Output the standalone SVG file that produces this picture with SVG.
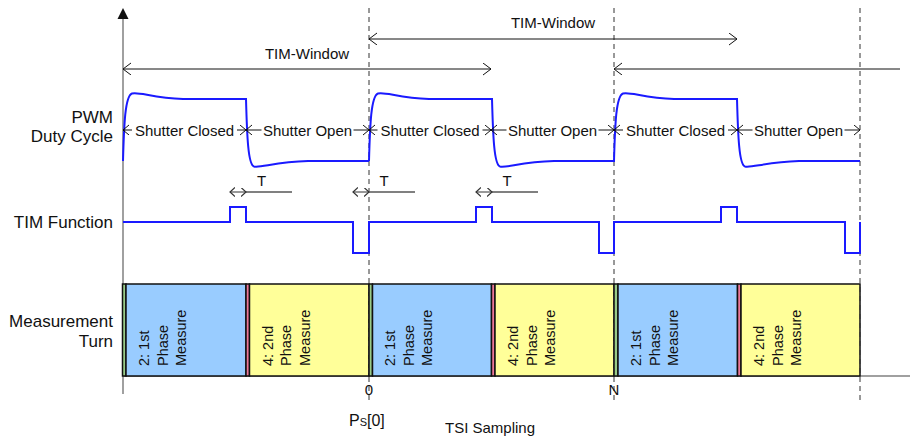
<svg xmlns="http://www.w3.org/2000/svg" width="910" height="436" viewBox="0 0 910 436">
<style>
text{font-family:"Liberation Sans",Arial,sans-serif;fill:#111}
.lbl{font-size:17px;text-anchor:end}
.sm{font-size:15px}
.bx{font-size:14.5px}
.mid{text-anchor:middle}
.wave{fill:none;stroke:#1a1aff;stroke-width:2}
.dash{stroke:#333;stroke-width:1;stroke-dasharray:5,4;fill:none}
.axis{stroke:#808080;stroke-width:1.5;fill:none}
.win{stroke:#111;stroke-width:1;fill:none;marker-start:url(#ah);marker-end:url(#ah)}
.sh{stroke:#111;stroke-width:1;fill:none}
.tm{stroke:#333;stroke-width:1;fill:none;marker-start:url(#aht);marker-end:url(#aht)}
.tl{stroke:#808080;stroke-width:2}
.box{stroke:#111;stroke-width:1.5}
.blue{fill:#99ccff}.yel{fill:#ffff99}.grn{fill:#99cc88}.pnk{fill:#ee7799}
</style>
<defs>
<marker id="ah" markerUnits="userSpaceOnUse" markerWidth="10" markerHeight="14" refX="8" refY="6" orient="auto-start-reverse"><path d="M0,0 L8,6 L0,12" fill="none" stroke="#111" stroke-width="1"/></marker>
<marker id="ahs" markerUnits="userSpaceOnUse" markerWidth="8" markerHeight="12" refX="6" refY="5" orient="auto-start-reverse"><path d="M0,0 L6,5 L0,10" fill="none" stroke="#111" stroke-width="1"/></marker>
<marker id="aht" markerUnits="userSpaceOnUse" markerWidth="8" markerHeight="11" refX="5" refY="4.5" orient="auto-start-reverse"><path d="M0,0 L5,4.5 L0,9" fill="none" stroke="#333" stroke-width="1.2"/></marker>
<path id="pwm" d="M0,161 C1,125 2,96 9,93.5 C16,91.5 30,98 60,99 L123,99 C124,135 125,165 131,166.5 C138,168 152,162 185,161 L246,161" fill="none" stroke="#1a1aff" stroke-width="2"/>
</defs>
<rect width="910" height="436" fill="#fff"/>

<g id="axes">
<line class="axis" x1="123" y1="18" x2="123" y2="394"/>
<path d="M123,8 L117.5,19 L128.5,19 Z" fill="#111"/>
<line class="axis" x1="123" y1="376" x2="910" y2="376"/>
</g>

<g id="labels">
<text class="lbl" x="113" y="123">PWM</text>
<text class="lbl" x="113" y="142">Duty Cycle</text>
<text class="lbl" x="113" y="228">TIM Function</text>
<text class="lbl" x="113" y="327">Measurement</text>
<text class="lbl" x="113" y="347">Turn</text>
</g>

<g id="measurement">
<g id="m1"><rect class="box grn" x="122.5" y="284" width="3.5" height="92"/><rect class="box blue" x="126" y="284" width="120" height="92"/>
<text class="bx" transform="translate(149,366) rotate(-90)"><tspan x="0" y="0">2: 1st</tspan><tspan x="0" dy="18.5">Phase</tspan><tspan x="0" dy="18.5">Measure</tspan></text></g>
<g id="m2"><rect class="box pnk" x="246" y="284" width="3.5" height="92"/><rect class="box yel" x="249.5" y="284" width="119.5" height="92"/>
<text class="bx" transform="translate(272.5,366) rotate(-90)"><tspan x="0" y="0">4: 2nd</tspan><tspan x="0" dy="18.5">Phase</tspan><tspan x="0" dy="18.5">Measure</tspan></text></g>
<g id="m3"><rect class="box grn" x="369" y="284" width="3.5" height="92"/><rect class="box blue" x="372.5" y="284" width="119" height="92"/>
<text class="bx" transform="translate(395,366) rotate(-90)"><tspan x="0" y="0">2: 1st</tspan><tspan x="0" dy="18.5">Phase</tspan><tspan x="0" dy="18.5">Measure</tspan></text></g>
<g id="m4"><rect class="box pnk" x="491.5" y="284" width="3.5" height="92"/><rect class="box yel" x="495" y="284" width="119" height="92"/>
<text class="bx" transform="translate(518,366) rotate(-90)"><tspan x="0" y="0">4: 2nd</tspan><tspan x="0" dy="18.5">Phase</tspan><tspan x="0" dy="18.5">Measure</tspan></text></g>
<g id="m5"><rect class="box grn" x="614" y="284" width="4" height="92"/><rect class="box blue" x="618" y="284" width="119.5" height="92"/>
<text class="bx" transform="translate(641,366) rotate(-90)"><tspan x="0" y="0">2: 1st</tspan><tspan x="0" dy="18.5">Phase</tspan><tspan x="0" dy="18.5">Measure</tspan></text></g>
<g id="m6"><rect class="box pnk" x="737.5" y="284" width="3.5" height="92"/><rect class="box yel" x="741" y="284" width="119" height="92"/>
<text class="bx" transform="translate(764,366) rotate(-90)"><tspan x="0" y="0">4: 2nd</tspan><tspan x="0" dy="18.5">Phase</tspan><tspan x="0" dy="18.5">Measure</tspan></text></g>
</g>

<g id="dashes">
<line class="dash" x1="369" y1="8" x2="369" y2="403"/>
<line class="dash" x1="614" y1="8" x2="614" y2="403"/>
<line class="dash" x1="860" y1="8" x2="860" y2="403"/>
</g>

<g id="pwm-wave">
<use href="#pwm" transform="translate(123,0)"/>
<use href="#pwm" transform="translate(369,0)"/>
<use href="#pwm" transform="translate(614,0)"/>
</g>

<g id="tim-wave">
<path class="wave" d="M123,222 H230 V207 H246 V222 H353 V253 H369 V222 H476 V207 H492 V222 H599 V253 H614 V222 H721 V207 H737 V222 H845 V253 H860 V222"/>
</g>

<g id="connectors">
<line class="win" x1="123" y1="69" x2="491" y2="69"/>
<line class="win" x1="369" y1="39" x2="737" y2="39"/>
<line class="sh" x1="614" y1="69" x2="900" y2="69" marker-start="url(#ah)"/>

<line class="sh" x1="123" y1="130" x2="132" y2="130" marker-start="url(#ahs)"/>
<line class="sh" x1="237" y1="130" x2="246" y2="130" marker-end="url(#ahs)"/>
<line class="sh" x1="246" y1="130" x2="261.5" y2="130" marker-start="url(#ahs)"/>
<line class="sh" x1="353.5" y1="130" x2="369" y2="130" marker-end="url(#ahs)"/>
<line class="sh" x1="369" y1="130" x2="377.5" y2="130" marker-start="url(#ahs)"/>
<line class="sh" x1="482.5" y1="130" x2="491" y2="130" marker-end="url(#ahs)"/>
<line class="sh" x1="491" y1="130" x2="506.5" y2="130" marker-start="url(#ahs)"/>
<line class="sh" x1="598.5" y1="130" x2="614" y2="130" marker-end="url(#ahs)"/>
<line class="sh" x1="614" y1="130" x2="623" y2="130" marker-start="url(#ahs)"/>
<line class="sh" x1="728" y1="130" x2="737" y2="130" marker-end="url(#ahs)"/>
<line class="sh" x1="737" y1="130" x2="752.5" y2="130" marker-start="url(#ahs)"/>
<line class="sh" x1="844.5" y1="130" x2="860" y2="130" marker-end="url(#ahs)"/>

<line class="tl" x1="246" y1="192" x2="292" y2="192"/>
<line class="tm" x1="230" y1="192" x2="246" y2="192"/>
<line class="tl" x1="369" y1="192" x2="415" y2="192"/>
<line class="tm" x1="353" y1="192" x2="369" y2="192"/>
<line class="tl" x1="492" y1="192" x2="538" y2="192"/>
<line class="tm" x1="476" y1="192" x2="492" y2="192"/>
</g>

<g id="texts">
<text class="sm mid" x="307" y="59">TIM-Window</text>
<text class="sm mid" x="553" y="28">TIM-Window</text>
<text class="sm mid" x="184.5" y="135.5">Shutter Closed</text>
<text class="sm mid" x="307.5" y="135.5">Shutter Open</text>
<text class="sm mid" x="430" y="135.5">Shutter Closed</text>
<text class="sm mid" x="552.5" y="135.5">Shutter Open</text>
<text class="sm mid" x="675.5" y="135.5">Shutter Closed</text>
<text class="sm mid" x="798.5" y="135.5">Shutter Open</text>
<text class="sm mid" x="261.5" y="186">T</text>
<text class="sm mid" x="384" y="186">T</text>
<text class="sm mid" x="507" y="186">T</text>
<text class="sm mid" x="369" y="395">0</text>
<text class="sm mid" x="614" y="395">N</text>
<text x="349" y="426" font-size="16">P<tspan font-size="11">S</tspan>[0]</text>
<text class="sm mid" x="490" y="433">TSI Sampling</text>
</g>
</svg>
